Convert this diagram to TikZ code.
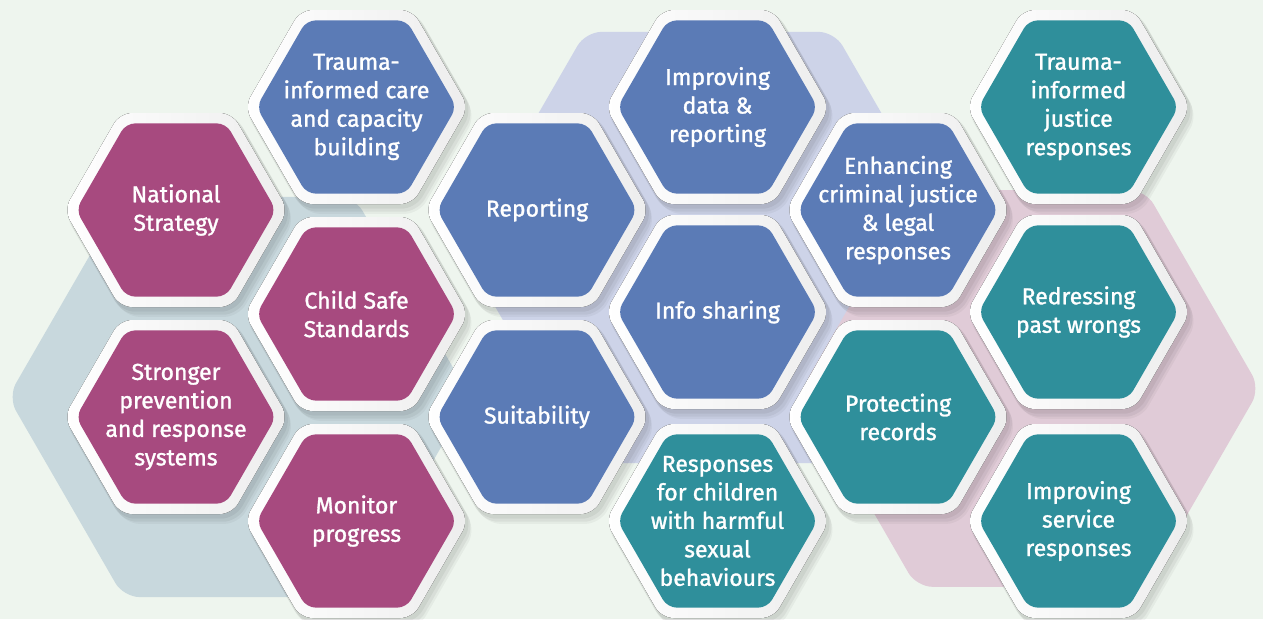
\documentclass[tikz,border=0pt]{standalone}
\usepackage{fontspec}
\setmainfont{Fira Sans}[BoldFont={Fira Sans}, BoldFeatures={FakeBold=1.3}]
\definecolor{bgc}{RGB}{238,245,238}
\definecolor{magc}{RGB}{167,74,127}
\definecolor{bluc}{RGB}{91,123,182}
\definecolor{teac}{RGB}{47,143,155}
\definecolor{greyhex}{RGB}{200,216,221}
\definecolor{lavhex}{RGB}{205,211,232}
\definecolor{pinkhex}{RGB}{224,203,215}
\newcommand\hexpath[3]{({#1},{#2-0.8660254*#3}) -- ({#1+0.5*#3},{#2-0.8660254*#3}) -- ({#1+#3},{#2}) -- ({#1+0.5*#3},{#2+0.8660254*#3}) -- ({#1-0.5*#3},{#2+0.8660254*#3}) -- ({#1-#3},{#2}) -- ({#1-0.5*#3},{#2-0.8660254*#3}) -- cycle}
\tikzset{
  hexlabel/.style={text=white, align=center, font=\bfseries\fontsize{23}{28.5}\selectfont, inner sep=0pt},
  bighex/.style={fill=#1, rounded corners=16pt},
  ringhex/.style={left color=white, right color=black!7, rounded corners=12pt},
  innerhex/.style={fill=#1, rounded corners=9pt},
  shadowhex/.style={fill=black, opacity=#1, rounded corners=14pt},
}
\newcommand\hexcell[5]{%
  \fill[shadowhex=0.05] \hexpath{#2+2}{#3+3}{114};
  \fill[shadowhex=0.05] \hexpath{#2+4}{#3+6}{114};
  \fill[shadowhex=0.04] \hexpath{#2+6}{#3+9}{113};
  \fill[ringhex] \hexpath{#2}{#3}{112};
  \fill[innerhex=#4] \hexpath{#2}{#3}{100};
  \node[hexlabel] (#1) at (#2,#3) {#5};
}
\begin{document}
\begin{tikzpicture}[x=1pt,y=-1pt]
\useasboundingbox (0,0) rectangle (1263,619);
\fill[bgc] (0,0) rectangle (1263,619);
% background hexagons
\fill[bighex=greyhex] \hexpath{239}{397}{231};
\fill[bighex=lavhex] \hexpath{710}{247.5}{249};
\fill[bighex=pinkhex] \hexpath{1031}{388.5}{229};
% column 1
\hexcell{ns}{176}{210}{magc}{National\\Strategy}
\hexcell{sp}{176}{417}{magc}{Stronger\\prevention\\and response\\systems}
% column 2
\hexcell{tic}{356.5}{107}{bluc}{Trauma-\\informed care\\and capacity\\building}
\hexcell{css}{356.5}{314}{magc}{Child Safe\\Standards}
\hexcell{mp}{356.5}{521}{magc}{Monitor\\progress}
% column 3
\hexcell{rep}{537}{210}{bluc}{Reporting}
\hexcell{suit}{537}{417}{bluc}{Suitability}
% column 4
\hexcell{idr}{717.5}{107}{bluc}{Improving\\data \&\\reporting}
\hexcell{info}{717.5}{312}{bluc}{Info sharing}
\hexcell{resp}{717.5}{521}{teac}{Responses\\for children\\with harmful\\sexual\\behaviours}
% column 5
\hexcell{ecj}{898}{210}{bluc}{Enhancing\\criminal justice\\\& legal\\responses}
\hexcell{prot}{898}{417}{teac}{Protecting\\records}
% column 6
\hexcell{tij}{1078.5}{107}{teac}{Trauma-\\informed\\justice\\responses}
\hexcell{red}{1078.5}{312}{teac}{Redressing\\past wrongs}
\hexcell{isr}{1078.5}{521}{teac}{Improving\\service\\responses}
\end{tikzpicture}
\end{document}
